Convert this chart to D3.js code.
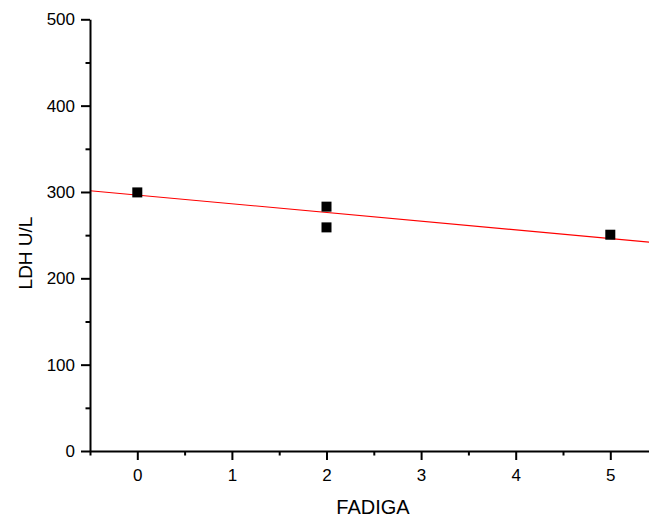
<!DOCTYPE html>
<html><head><meta charset="utf-8">
<script src="https://cdn.jsdelivr.net/npm/d3@7"></script>
<style>body{margin:0;background:#fff}svg{display:block}text{font-family:"Liberation Sans",Arial,sans-serif}</style>
</head><body>
<svg id="c" width="649" height="519"></svg>
<script>
const pointX = [0, 2, 2, 5];
const pointY = [299.5, 283, 259, 250.5];
const fitX = [-0.5, 5.5];
const fitY = [301.5, 241];
const xTicks = [0, 1, 2, 3, 4, 5];
const yTicks = [0, 100, 200, 300, 400, 500];
const xLabel = "FADIGA";
const yLabel = "LDH U/L";

const svg = d3.select("#c");
const x = d3.scaleLinear().domain([-0.5, 5.5]).range([90, 657.6]);
const y = d3.scaleLinear().domain([0, 500]).range([451, 19.3]);

// fit line
svg.append("path")
  .attr("d", d3.line().x(d=>x(d[0])).y(d=>y(d[1]))(fitX.map((v,i)=>[v,fitY[i]])))
  .attr("stroke", "#ff0000").attr("stroke-width", 1.1).attr("fill", "none");

// points
svg.selectAll("rect.pt").data(pointX.map((v,i)=>[v,pointY[i]])).enter().append("rect")
  .attr("class","pt")
  .attr("x", d=>x(d[0])-5).attr("y", d=>y(d[1])-5)
  .attr("width", 10).attr("height", 10).attr("fill", "#000");

// x axis
const xMinor = d3.range(-0.5, 5.51, 0.5).filter(v => Math.abs(v - Math.round(v)) > 0.01);
const gx = svg.append("g").attr("transform", "translate(0,451)");
gx.call(d3.axisBottom(x).tickValues(xMinor).tickSize(4.5).tickFormat(""))
  .call(g => g.select(".domain").remove());
gx.append("g").call(d3.axisBottom(x).tickValues(xTicks).tickSize(9).tickSizeOuter(0).tickPadding(9).tickFormat(d3.format("d")))
  .call(g => g.select(".domain").attr("stroke-width", 2));
gx.selectAll(".tick line").attr("stroke-width", 2);
gx.selectAll("text").attr("font-size", 17).attr("fill", "#000");

// y axis
const yMinor = d3.range(50, 500, 100);
const gy = svg.append("g").attr("transform", "translate(90,0)");
gy.call(d3.axisLeft(y).tickValues(yMinor).tickSize(4.5).tickFormat(""))
  .call(g => g.select(".domain").remove());
gy.append("g").call(d3.axisLeft(y).tickValues(yTicks).tickSize(9).tickSizeOuter(0).tickPadding(6).tickFormat(d3.format("d")))
  .call(g => g.select(".domain").attr("stroke-width", 2));
gy.selectAll(".tick line").attr("stroke-width", 2);
gy.selectAll("text").attr("font-size", 17).attr("fill", "#000");

// labels
svg.append("text").attr("x", 373).attr("y", 514).attr("text-anchor", "middle")
  .attr("font-size", 20).text(xLabel);
svg.append("text").attr("transform", "translate(32,253) rotate(-90)").attr("text-anchor", "middle")
  .attr("font-size", 19).text(yLabel);
</script>
</body></html>
